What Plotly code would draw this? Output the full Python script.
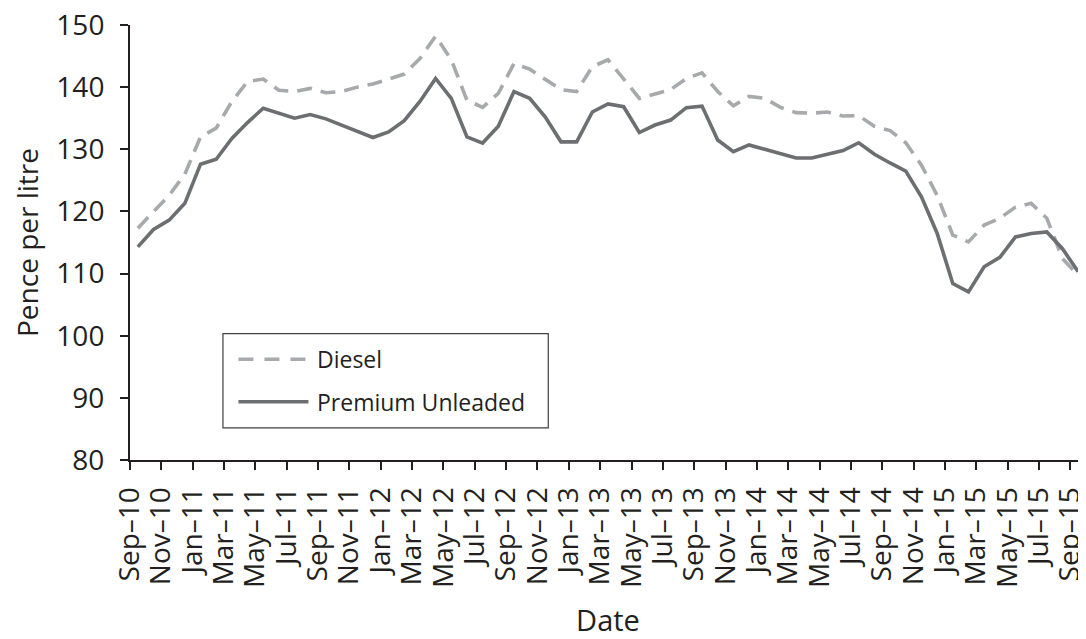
import numpy as np
import plotly.graph_objects as go

months = []
mnames = ["Jan", "Feb", "Mar", "Apr", "May", "Jun", "Jul", "Aug", "Sep", "Oct", "Nov", "Dec"]
for i in range(61):
    m = (8 + i) % 12
    y = 10 + (8 + i) // 12
    months.append(f"{mnames[m]}\u2013{y:02d}")

diesel = [117.3, 119.9, 122.6, 126.0, 132.0, 133.4, 137.7, 140.9, 141.3, 139.5,
          139.3, 139.8, 139.1, 139.3, 140.0, 140.5, 141.3, 142.1, 144.6, 148.2,
          144.4, 137.9, 136.75, 139.0, 143.8, 142.9, 141.25, 139.6, 139.3, 143.3,
          144.4, 141.4, 138.2, 138.9, 139.6, 141.4, 142.3, 139.3, 137.0, 138.5,
          138.2, 136.75, 135.9, 135.8, 136.0, 135.35, 135.4, 133.7, 133.0, 131.05,
          127.45, 122.6, 116.2, 115.1, 117.8, 118.9, 120.7, 121.3, 118.9, 112.4,
          109.7]

premium = [114.3, 117.1, 118.6, 121.3, 127.6, 128.4, 131.75, 134.3, 136.6, 135.8,
           135.0, 135.6, 134.9, 133.9, 132.9, 131.9, 132.8, 134.6, 137.7, 141.4,
           138.2, 132.0, 131.0, 133.7, 139.3, 138.2, 135.2, 131.2, 131.2, 136.0,
           137.3, 136.85, 132.7, 133.9, 134.7, 136.7, 136.95, 131.5, 129.6, 130.7,
           130.0, 129.3, 128.6, 128.6, 129.2, 129.8, 131.05, 129.2, 127.8, 126.5,
           122.35, 116.5, 108.4, 107.05, 111.1, 112.6, 115.9, 116.45, 116.7, 114.0,
           110.3]

series_names = ["Diesel", "Premium Unleaded"]
colors = ["#A7A9AC", "#6D6E71"]
dashes = ["15px,9px", "solid"]

FONT = "Open Sans"
TXT = "#231F20"

x = np.arange(len(months))
tick_idx = np.arange(0, len(months), 2)

fig = go.Figure()
fig.add_trace(go.Scatter(x=x, y=diesel, mode="lines", name=series_names[0],
                         line=dict(color=colors[0], width=3.6, dash=dashes[0]),
                         showlegend=False, cliponaxis=False))
fig.add_trace(go.Scatter(x=x, y=premium, mode="lines", name=series_names[1],
                         line=dict(color=colors[1], width=3.6, dash=dashes[1]),
                         showlegend=False, cliponaxis=False))

# The page body adds an 8px margin, so the figure is sized/offset to compensate.
OFF = 8
PAGE_W, PAGE_H = 1086, 639
L, T, R, B = 129.5, 25.0, 1086.0, 459.7   # plot area in page pixels
W, H = R - L, B - T

def px(xp):
    return (xp - L) / W
def py(yp):
    return (B - yp) / H

# Manual legend (box, line samples, labels)
fig.add_shape(type="rect", xref="paper", yref="paper",
              x0=px(222.5), x1=px(548), y0=py(427.5), y1=py(333.5),
              line=dict(color="#414042", width=1.2), fillcolor="white")
for i, yy in enumerate([359, 401.5]):
    fig.add_shape(type="line", xref="paper", yref="paper",
                  x0=px(238), x1=px(308), y0=py(yy), y1=py(yy),
                  line=dict(color=colors[i], width=3.6,
                            dash=("15px,11px" if i == 0 else "solid")))
    fig.add_annotation(xref="paper", yref="paper", x=px(315), y=py(yy),
                       text=series_names[i], showarrow=False, xanchor="left",
                       yanchor="middle", font=dict(family=FONT, size=23, color=TXT))

fig.update_layout(
    width=PAGE_W - OFF, height=PAGE_H - OFF,
    margin=dict(l=L - OFF, r=PAGE_W - R, t=T - OFF, b=PAGE_H - B, autoexpand=False),
    paper_bgcolor="white", plot_bgcolor="white",
    font=dict(family=FONT, color=TXT),
)
fig.update_xaxes(
    range=[-0.5, len(months) - 0.5], automargin=False,
    tickmode="array", tickvals=tick_idx - 0.5, ticktext=[months[i] for i in tick_idx],
    tickangle=-90, ticks="outside", ticklen=8, tickwidth=2, tickcolor=TXT,
    showline=True, linecolor=TXT, linewidth=2, showgrid=False, zeroline=False,
    tickfont=dict(family=FONT, size=28, color=TXT), ticklabelstandoff=6,
    ticklabeloverflow="allow",
    title=dict(text="Date", font=dict(family=FONT, size=29, color=TXT), standoff=29),
)
fig.update_yaxes(
    range=[80, 150], dtick=10, tick0=80, automargin=False,
    ticks="outside", ticklen=8, tickwidth=2, tickcolor=TXT,
    showline=True, linecolor=TXT, linewidth=2, showgrid=False, zeroline=False,
    tickfont=dict(family=FONT, size=28, color=TXT), ticklabelstandoff=10,
    ticklabeloverflow="allow",
    title=dict(text="Pence per litre", font=dict(family=FONT, size=28, color=TXT), standoff=14),
)

fig.write_html("out.html")
